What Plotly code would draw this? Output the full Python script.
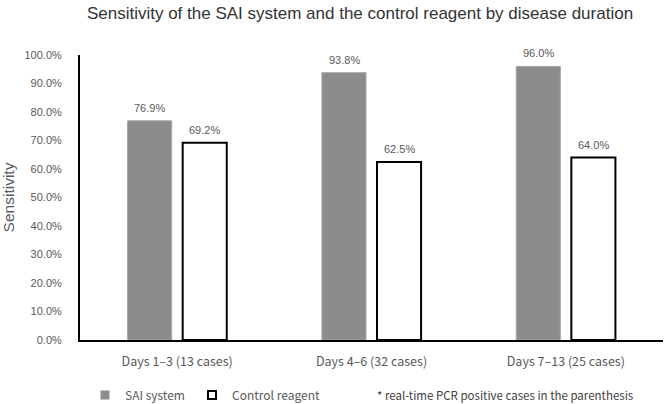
import plotly.graph_objects as go

categories = ["Days 1–3 (13 cases)", "Days 4–6 (32 cases)", "Days 7–13 (25 cases)"]
sai_values = [0.769, 0.938, 0.960]
control_values = [0.692, 0.625, 0.640]
series_names = ["SAI system", "Control reagent"]
title_text = "Sensitivity of the SAI system and the control reagent by disease duration"
yaxis_title = "Sensitivity"
note_text = "* real-time PCR positive cases in the parenthesis"

TXT = "#595959"
JP = "Noto Sans CJK JP"
SANS = "Liberation Sans, Arial, sans-serif"
SAI_COLOR = "#8c8c8c"

fig = go.Figure()
fig.add_trace(go.Bar(
    x=categories, y=sai_values, name=series_names[0], showlegend=False,
    marker=dict(color=SAI_COLOR, line=dict(color="#a6a6a6", width=1)),
))
fig.add_trace(go.Bar(
    x=categories, y=control_values, name=series_names[1], showlegend=False,
    marker=dict(color="white", line=dict(color="black", width=2)),
))
# legend entries with small square swatches
fig.add_trace(go.Scatter(
    x=[None], y=[None], mode="markers", name=series_names[0], legend="legend",
    marker=dict(symbol="square", size=9, color=SAI_COLOR, line=dict(width=0)),
))
fig.add_trace(go.Scatter(
    x=[None], y=[None], mode="markers", name=series_names[1], legend="legend2",
    marker=dict(symbol="square", size=8, color="white", line=dict(color="black", width=2)),
))

# value labels above each bar (group offset of +/- half a bar slot, in pixels)
annotations = []
for series, shift in ((sai_values, -27.5), (control_values, 27.5)):
    for cat, val in zip(categories, series):
        annotations.append(dict(x=cat, y=val, xref="x", yref="y", text=f"{val:.1%}",
                                showarrow=False, xshift=shift, yshift=13, yanchor="middle",
                                font=dict(family=SANS, size=11, color=TXT)))
annotations.append(dict(text=note_text, xref="paper", yref="paper", x=(375 - 80) / 583,
                        xanchor="left", y=-(395 - 340) / 285, yanchor="middle", showarrow=False,
                        font=dict(family=JP, size=11.5, color="#404040")))

leg_common = dict(orientation="h", xanchor="left", yref="container", y=9 / 404,
                  yanchor="middle", font=dict(family=JP, size=12, color=TXT),
                  bgcolor="rgba(0,0,0,0)", itemwidth=30)

fig.update_layout(
    width=666, height=404,
    margin=dict(l=80, r=3, t=55, b=64, autoexpand=False),
    paper_bgcolor="white", plot_bgcolor="white",
    barmode="group", bargap=0.433, bargroupgap=0.2,
    title=dict(text=title_text, x=360 / 666, xanchor="center", yref="container", y=0.968,
               yanchor="middle", font=dict(family=SANS, size=17, color="#333333")),
    showlegend=True,
    legend=dict(**leg_common, x=(85 - 80) / 583),
    legend2=dict(**leg_common, x=(192 - 80) / 583),
    annotations=annotations,
)
fig.update_xaxes(showline=True, linecolor="black", linewidth=2, ticks="", automargin=False,
                 tickfont=dict(family=JP, size=12.5, color=TXT), ticklabelstandoff=9,
                 showgrid=False, zeroline=False)
fig.update_yaxes(range=[0, 1.0], dtick=0.1, tickformat=".1%", showline=True, automargin=False,
                 linecolor="black", linewidth=2, ticks="", showgrid=False, zeroline=False,
                 tickfont=dict(family=SANS, size=11, color=TXT), ticklabelstandoff=14,
                 title=dict(text=yaxis_title, standoff=6, font=dict(family=SANS, size=15.5, color=TXT)))

fig.write_html("out.html", config={"displayModeBar": False},
               post_script="document.body.style.margin='0';document.body.style.overflow='hidden';")
